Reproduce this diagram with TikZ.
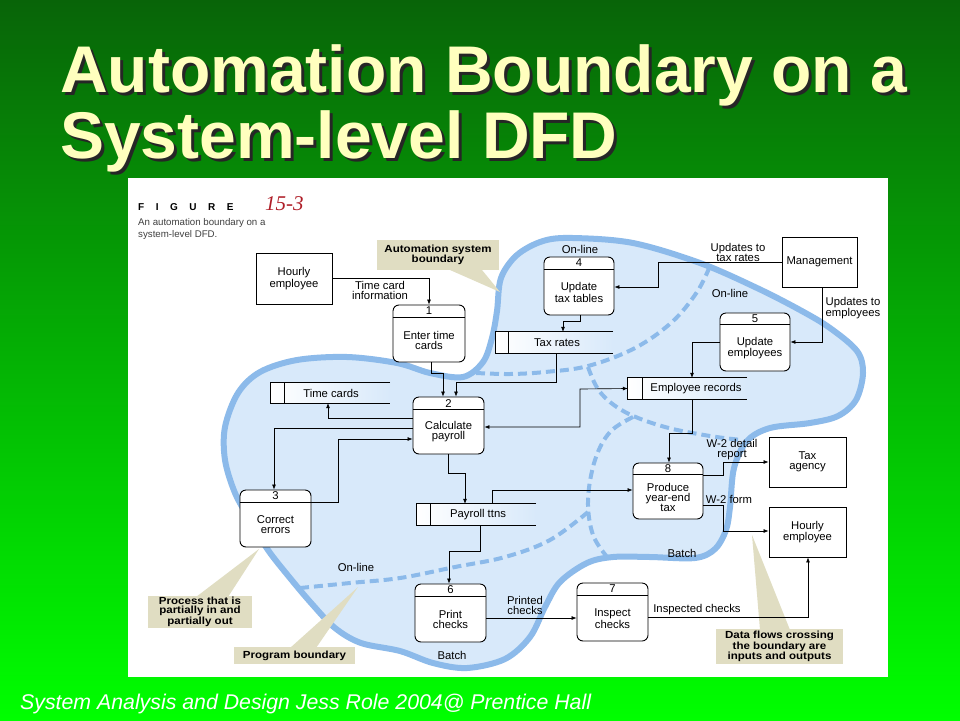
\documentclass[tikz,border=0pt]{standalone}
\usepackage{fontspec}
\setmainfont{Liberation Sans}
\newfontfamily\dfd{Liberation Sans}
\newfontfamily\callfont[FakeStretch=1.12]{Liberation Sans}
\newfontfamily\serifit{Liberation Serif}
\usetikzlibrary{arrows.meta,calc}

\definecolor{bgtop}{RGB}{8,100,8}
\definecolor{bgbot}{RGB}{0,255,0}
\definecolor{blobfill}{RGB}{216,233,250}
\definecolor{blobline}{RGB}{140,186,234}
\definecolor{callfill}{RGB}{224,221,194}
\definecolor{titleyel}{RGB}{255,255,190}
\definecolor{figred}{RGB}{175,30,40}

\newcommand\shadowtext[1]{\makebox[0pt][l]{\hspace{3pt}\raisebox{-3pt}{\textcolor{black!85}{#1}}}\textcolor{titleyel}{#1}}

\tikzset{
  proc/.style={draw, line width=0.9pt, rounded corners=6pt, fill=white, inner sep=0pt},
  ent/.style={draw, line width=0.9pt, fill=white, inner sep=0pt, align=center,
    font=\dfd\fontsize{11.3}{10}\selectfont},
  boxline/.style={line width=0.9pt},
  txt/.style={font=\dfd\fontsize{11.3}{10}\selectfont, align=center, inner sep=0pt},
  storebg/.style={inner sep=0pt, left color=white, middle color=white, right color=blobfill},
  flow/.style={line width=0.65pt, -{Latex[length=5pt,width=4pt]}},
  flowtwo/.style={line width=0.65pt, {Latex[length=5pt,width=4pt]}-{Latex[length=5pt,width=4pt]}},
  callbox/.style={fill=callfill, inner sep=0pt, align=center,
    font=\callfont\bfseries\fontsize{10.3}{8.8}\selectfont},
  progline/.style={blobline, line width=4pt, dash pattern=on 9pt off 5pt},
  titletxt/.style={anchor=base west, inner sep=0pt, font=\bfseries\fontsize{66}{66}\selectfont},
}

\newcommand\procbox[7]{%
  \node[proc, minimum width=#3pt, minimum height=#4pt] (#1) at #2 {};
  \draw[boxline] ($(#1.north west)+(0,#5)$) -- ($(#1.north east)+(0,#5)$);
  \node[txt] (#1n) at ($(#1.north)+(0,#5/2)$) {#6};
  \node[txt] (#1t) at ($(#1.center)+(0,#5/2)$) {#7};
}
\newcommand\storebox[8]{%
  \node[storebg, minimum width={#4-#2}, minimum height={#5-#3}] (#1) at ({(#2+#4)/2},{(#3+#5)/2}) {};
  \draw[boxline] (#1.north east) -- (#1.north west) -- (#1.south west) -- (#1.south east);
  \draw[boxline] (#1.north west -| #6,0) -- (#1.south west -| #6,0);
  \node[txt] (#1t) at (#7,{(#3+#5)/2}) {#8};
}

\begin{document}
\begin{tikzpicture}[x=1pt,y=-1pt]
\useasboundingbox (0,0) rectangle (960,720);
% background
\shade[top color=bgtop, bottom color=bgbot] (0,0) rectangle (960,720);
% title
\node[titletxt] (t1) at (60,92) {\shadowtext{Automation Boundary on a}};
\node[titletxt] (t2) at (60,158) {\shadowtext{System-level DFD}};
% footer
\node[anchor=base west, inner sep=0pt, font=\itshape\fontsize{21.3}{21}\selectfont, text=white] (foot) at (20,709) {System Analysis and Design Jess Role 2004@ Prentice Hall};
% panel
\fill[white] (128,178) rectangle (888,677);
% figure caption
\node[anchor=west, inner sep=0pt, font=\bfseries\fontsize{10}{10}\selectfont] (figlbl) at (138,207)
  {F\hskip11.5pt I\hskip11.5pt G\hskip11.5pt U\hskip11.5pt R\hskip11.5pt E};
\node[anchor=west, inner sep=0pt, font=\serifit\itshape\fontsize{21}{21}\selectfont, text=figred] (fignum) at (265,204) {15-3};
\node[anchor=north west, inner sep=0pt, align=left, text=black!75, font=\fontsize{9.7}{12}\selectfont] (figcap) at (138,218)
  {An automation boundary on a\\system-level DFD.};

% automation boundary blob
\def\blobpath{plot[smooth cycle, tension=0.55] coordinates {
 (400,651) (361,643) (335,628) (312,604) (290,578) (268,550) (250,520) (235,493) (225,460)
 (225,427) (238,393) (260,372) (297,360) (347,357) (397,363) (430,373) (463,377) (483,362)
 (492,338) (497,311) (501,278) (517,255) (543,241) (573,238) (633,243) (700,263) (757,288)
 (800,310) (830,328) (857,351) (863,373) (856,400) (838,416) (810,423) (770,428) (747,441)
 (734,468) (730,507) (726,530) (715,549) (695,558) (650,557) (613,557) (587,563) (560,582)
 (545,607) (530,637) (505,659) (467,668) (433,663)}}
\fill[blobfill] \blobpath;
\draw[blobline, line width=6pt] \blobpath;
% program boundaries
\draw[progline] plot[smooth, tension=0.6] coordinates {(476,373) (510,374) (545,372) (588,366) (635,348) (672,322) (697,292) (710,266)};
\draw[progline] plot[smooth, tension=0.6] coordinates {(588,367) (600,392) (625,412) (665,427) (710,436) (742,440)};
\draw[progline] plot[smooth, tension=0.6] coordinates {(633,417) (610,432) (595,460) (588,500) (593,535) (608,558)};
\draw[progline] plot[smooth, tension=0.6] coordinates {(300,588) (350,583) (400,578) (455,567) (505,557) (550,540) (588,512)};

% callout pointers
\fill[callfill] (450,270) -- (482,270) -- (500,292) -- cycle;
\fill[callfill] (196,597) -- (228,597) -- (259,549) -- cycle;
\fill[callfill] (290,648) -- (316,648) -- (358,587) -- cycle;
\fill[callfill] (760,630) -- (790,630) -- (752,535) -- cycle;
% callouts
\node[callbox, minimum width=122pt, minimum height=30pt] (k1) at (438,255) {Automation system\\boundary};
\node[callbox, minimum width=104pt, minimum height=32pt] (k2) at (200,612) {Process that is\\partially in and\\partially out};
\node[callbox, minimum width=121pt, minimum height=17pt] (k3) at (294.5,655.5) {Program boundary};
\node[callbox, minimum width=127pt, minimum height=35pt] (k4) at (779.5,646.5) {Data flows crossing\\the boundary are\\inputs and outputs};

% data stores
\storebox{staxr}{496}{332}{613}{353}{508}{557}{Tax rates}
\storebox{stime}{271}{383}{390}{403}{284}{331}{Time cards}
\storebox{semp}{628}{378}{747}{399}{642}{696}{Employee records}
\storebox{spay}{417}{504}{536}{525}{430}{478}{Payroll ttns}

% processes
\procbox{p1}{(429,333.5)}{72}{57}{13}{1}{Enter time\\cards}
\procbox{p4}{(579,286)}{70}{58}{13}{4}{Update\\tax tables}
\procbox{p5}{(755,342)}{70}{58}{12}{5}{Update\\employees}
\procbox{p2}{(448.5,425.5)}{71}{57}{13}{2}{Calculate\\payroll}
\procbox{p3}{(275.5,518.5)}{71}{57}{13}{3}{Correct\\errors}
\procbox{p8}{(668,491)}{70}{56}{12}{8}{Produce\\year-end\\tax}
\procbox{p6}{(450.5,613)}{71}{58}{13}{6}{Print\\checks}
\procbox{p7}{(612.5,612)}{71}{58}{13}{7}{Inspect\\checks}

% external entities
\node[ent, minimum width=76pt, minimum height=51pt] (e1) at (294,278.5) {Hourly\\employee};
\node[ent, minimum width=75pt, minimum height=50pt] (e2) at (819.5,262) {Management};
\node[ent, minimum width=77pt, minimum height=50pt] (e3) at (807.5,462) {Tax\\agency};
\node[ent, minimum width=77pt, minimum height=50pt] (e4) at (807.5,532) {Hourly\\employee};

% data flows
\draw[flow] (e1.east) -| (p1.north);
\draw[flow] (p1.south -| 431,0) -- (431,373) -| (p2.north -| 443,0);
\draw[flow] (staxr.south -| 556,0) -- (556,382) -| (p2.north -| 456,0);
\draw[flow] (p4.south -| 580,0) -- (580,321) -| (staxr.north -| 563,0);
\draw[flow] (e2.west) -| (658,287) -- (p4.east |- 0,287);
\draw[flow] (e2.south -| 822,0) |- (p5.east);
\draw[flow] (p5.west) -| (semp.north -| 692,0);
\draw[flowtwo] (p2.east |- 0,427) -| (580,389) -- (semp.west);
\draw[flow] (semp.south -| 692,0) -- (692,433) -| (p8.north -| 669,0);
\draw[flow] (p2.west |- 0,418) -| (stime.south -| 328,0);
\draw[flow] (p2.west |- 0,428) -| (p3.north -| 274,0);
\draw[flow] (p3.east |- 0,502) -| (338,439) -- (p2.west |- 0,439);
\draw[flow] (p2.south -| 448,0) -- (448,473) -| (spay.north -| 465,0);
\draw[flow] (spay.north -| 492,0) |- (p8.west |- 0,490);
\draw[flow] (spay.south -| 480,0) -- (480,551) -| (p6.north -| 449,0);
\draw[flow] (p6.east |- 0,618) -- (p7.west |- 0,618);
\draw[flow] (p7.east |- 0,617) -| (e4.south -| 808,0);
\draw[flow] (p8.east |- 0,475) -| (723,462) -- (e3.west |- 0,462);
\draw[flow] (p8.east |- 0,505) -| (723,531) -- (e4.west |- 0,531);

% flow labels
\node[txt] (l1) at (380,290) {Time card\\information};
\node[txt] (l2) at (738,252) {Updates to\\tax rates};
\node[txt] (l3) at (853,308) {Updates to\\employees};
\node[txt] (l4) at (732,450) {W-2 detail\\report};
\node[txt] (l5) at (729,499) {W-2 form};
\node[txt] (l6) at (525,605) {Printed\\checks};
\node[txt] (l7) at (697,610) {Inspected checks};
% zone labels
\node[txt] (z1) at (580,249) {On-line};
\node[txt] (z2) at (730,293) {On-line};
\node[txt] (z3) at (356,567) {On-line};
\node[txt] (z4) at (682,553) {Batch};
\node[txt] (z5) at (452,655) {Batch};
\end{tikzpicture}
\end{document}
